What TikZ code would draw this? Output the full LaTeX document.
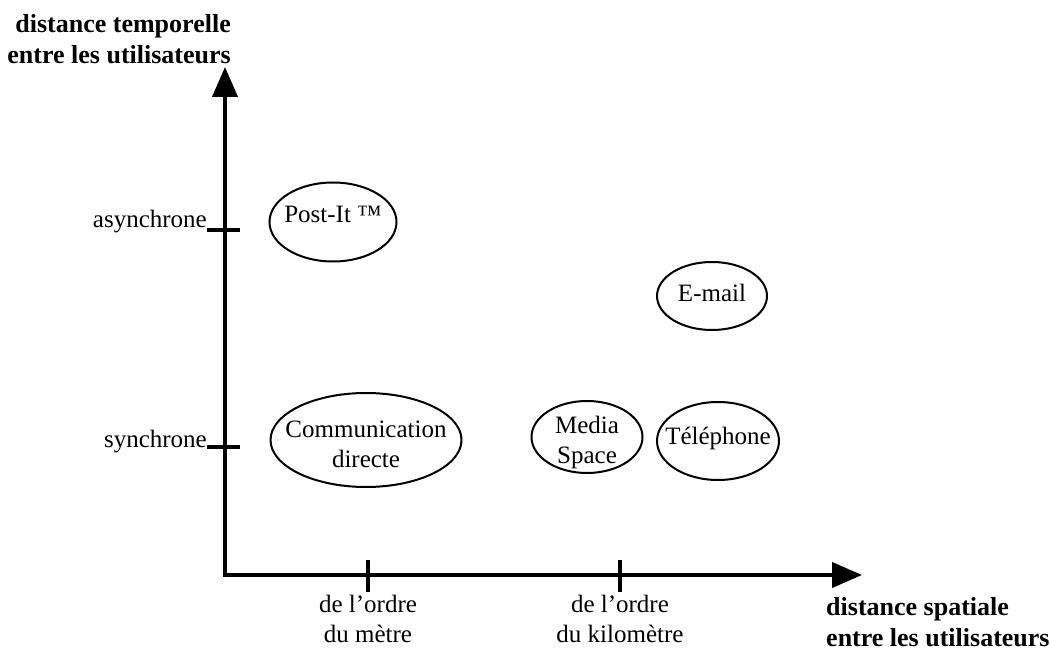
\documentclass[tikz,border=0pt]{standalone}
\usepackage{fontspec}
\setmainfont{Liberation Serif}
\usetikzlibrary{shapes.geometric}
\usetikzlibrary{arrows.meta}

\begin{document}
\begin{tikzpicture}[x=1pt, y=-1pt,
    every node/.style={font=\fontsize{25}{30}\selectfont},
    >={Triangle[length=30pt, width=25pt]},
    axis/.style={line width=4pt, line join=miter},
    tick/.style={line width=4pt},
    media/.style={draw, ellipse, line width=2pt, inner sep=0pt},
    mediatext/.style={align=center, inner sep=0pt},
    axislabel/.style={font=\fontsize{26}{31}\selectfont\bfseries}]

\useasboundingbox (0,0) rectangle (1050,652);

% --- AXES ---
\coordinate (O) at (225,575);
\coordinate (ytip) at (225,67);
\coordinate (xtip) at (862,575);
\draw[axis, <->] (ytip) -- (O) -- (xtip);

% --- TIME AXIS: ticks and labels ---
\coordinate (async) at (225,230);
\coordinate (sync) at (225,447);
\draw[tick] ([xshift=-18pt]async) -- ([xshift=15pt]async);
\draw[tick] ([xshift=-18pt]sync) -- ([xshift=15pt]sync);
\node[anchor=base east, inner sep=0pt] (lasync) at (207,228) {asynchrone};
\node[anchor=base east, inner sep=0pt] (lsync) at (207,447) {synchrone};
\node[axislabel, anchor=north east, align=right, inner sep=0pt] (ylabel) at (231,14)
    {distance temporelle\\entre les utilisateurs};

% --- SPACE AXIS: ticks and labels ---
\coordinate (metre) at (368,575);
\coordinate (km) at (620,575);
\draw[tick] ([yshift=-17pt]metre) -- ([yshift=15pt]metre);
\draw[tick] ([yshift=-17pt]km) -- ([yshift=15pt]km);
\node[anchor=north, align=center, inner sep=0pt] (lmetre) at (368,595)
    {de l’ordre\\du mètre};
\node[anchor=north, align=center, inner sep=0pt] (lkm) at (620,595)
    {de l’ordre\\du kilomètre};
\node[axislabel, anchor=north west, align=left, inner sep=0pt] (xlabel) at (826,597)
    {distance spatiale\\entre les utilisateurs};

% --- MEDIA ---
\node[media, minimum width=127pt, minimum height=79pt] (postit) at (333,222) {};
\node[mediatext] (postittext) at ([yshift=8pt]postit.center) {Post-It ™};
\node[media, minimum width=110pt, minimum height=68pt] (email) at (712,296) {};
\node[mediatext] (emailtext) at ([yshift=3pt]email.center) {E-mail};
\node[media, minimum width=191pt, minimum height=94pt] (direct) at (366,440) {};
\node[mediatext] (directtext) at ([yshift=-4pt]direct.center) {Communication\\directe};
\node[media, minimum width=111pt, minimum height=72pt] (mspace) at (587,437) {};
\node[mediatext] (mspacetext) at ([yshift=-5pt]mspace.center) {Media\\Space};
\node[media, minimum width=122pt, minimum height=78pt] (phone) at (718,441) {};
\node[mediatext] (phonetext) at ([yshift=3pt]phone.center) {Téléphone};

\end{tikzpicture}
\end{document}
